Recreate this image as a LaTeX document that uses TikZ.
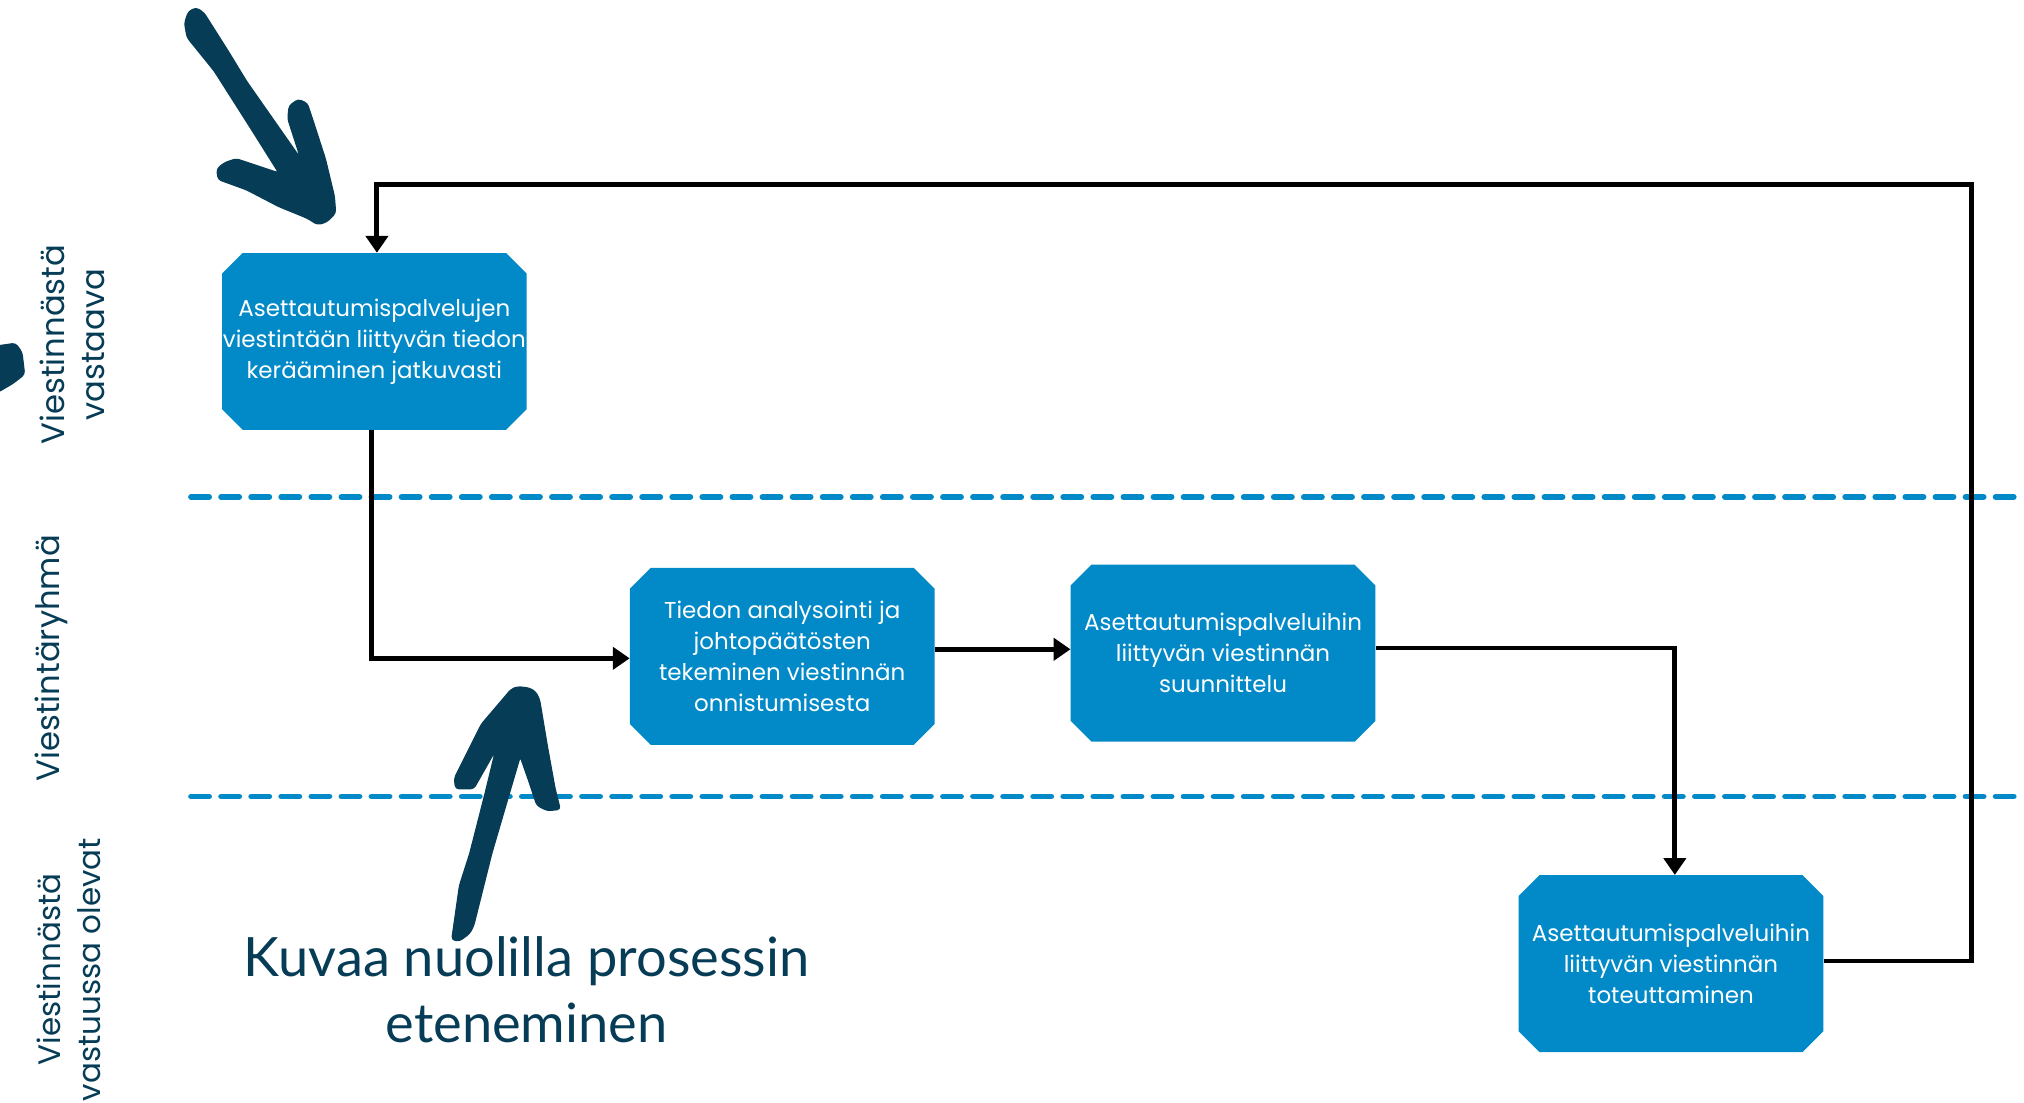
\documentclass[tikz,border=0pt]{standalone}
\usepackage{fontspec}
\setmainfont{Poppins}
\newfontfamily\titlefont{Lato}
\usetikzlibrary{shapes.misc,arrows.meta}
\definecolor{boxblue}{RGB}{2,137,199}
\definecolor{navy}{RGB}{7,60,86}
\tikzset{
  stepbox/.style={chamfered rectangle, chamfered rectangle xsep=8pt, chamfered rectangle ysep=8pt,
    chamfered rectangle corners={north east,north west,south east,south west},
    fill=boxblue, draw=none, text=white, minimum width=236pt, minimum height=137pt,
    inner xsep=-8pt, inner ysep=0pt, align=center, font=\fontsize{17.8pt}{24pt}\selectfont},
  conn/.style={line width=3.8pt, black, line join=miter},
  tip/.style={-{Triangle[length=13pt,width=17pt]}},
  lanesep/.style={line width=4.5pt, boxblue, line cap=round, dash pattern=on 14pt off 9.3pt},
  lanelabel/.style={rotate=90, text=navy, align=center, font=\fontsize{25pt}{31pt}\selectfont},
  handarrow/.style={fill=navy, draw=navy, line width=1pt, rounded corners=2.5pt}
}
\begin{document}
\begin{tikzpicture}[x=1pt,y=-1pt]
\useasboundingbox (0,0) rectangle (1568,854);

% lane separators
\draw[lanesep] (148,385) -- (1568,385);
\draw[lanesep] (148,617) -- (1568,617);

% lane labels
\node[lanelabel] (l1) at (56,267) {Viestinnästä\\vastaava};
\node[lanelabel] (l2) at (40,510) {Viestintäryhmä};
\node[lanelabel, font=\fontsize{24pt}{31pt}\selectfont] (l3) at (53,751) {Viestinnästä\\vastuussa olevat};

% boxes
\node[stepbox] (b1) at (290,264.5) {Asettautumispalvelujen\\viestintään liittyvän tiedon\\kerääminen jatkuvasti};
\node[stepbox] (b2) at (606,508.5) {Tiedon analysointi ja\\johtopäätösten\\tekeminen viestinnän\\onnistumisesta};
\node[stepbox] (b3) at (947.5,506) {Asettautumispalveluihin\\liittyvän viestinnän\\suunnittelu};
\node[stepbox] (b4) at (1294.5,746.5) {Asettautumispalveluihin\\liittyvän viestinnän\\toteuttaminen};

% connectors
\coordinate (loopc) at (1527,143);
\draw[conn,tip] ([yshift=2pt]b4.east) -| (loopc) -| ([xshift=2pt]b1.north);
\draw[conn,tip] ([xshift=-2pt]b1.south) |- ([yshift=-1.5pt]b2.west);
\draw[conn,tip] ([yshift=3pt]b2.east|-b3.west) -- ([yshift=3pt]b3.west);
\draw[conn,tip] ([yshift=4pt]b3.east) -| ([xshift=3pt]b4.north);

% title
\node[text=navy, align=center, font=\titlefont\fontsize{42pt}{51pt}\selectfont] (title) at (408,767)
  {Kuvaa nuolilla prosessin\\eteneminen};

% hand-drawn arrow, top left
\path[handarrow] (146,9) -- (152,6) -- (158,10) -- (177,40) -- (191,63) -- (233,123)
  -- (223,92) -- (224,82) -- (231,77) -- (238,80) -- (242,92) -- (252,123) -- (259,152)
  -- (260,165) -- (253,172) -- (246,174) -- (238,169) -- (216,160) -- (191,147) -- (169,139)
  -- (168,131) -- (174,126) -- (183,123) -- (216,134) -- (194,99) -- (166,55) -- (145,29)
  -- (143,18) -- cycle;

% hand-drawn arrow, bottom
\path[handarrow] (350,728) -- (356,686) -- (364,661) -- (376,614) -- (384,581)
  -- (367,611) -- (353,611) -- (352,603) -- (373,561) -- (396,534) -- (401,532)
  -- (410,533) -- (415,536) -- (418,542) -- (424,578) -- (430,611) -- (434,627)
  -- (424,628) -- (416,624) -- (410,606) -- (403,586) -- (393,620) -- (381,661)
  -- (367,717) -- (364,723) -- (356,729) -- cycle;

% partial shape at left edge
\path[handarrow] (-2,268) -- (12,266) -- (17,273) -- (19,290) -- (10,297) -- (-2,304) -- cycle;
\end{tikzpicture}
\end{document}
